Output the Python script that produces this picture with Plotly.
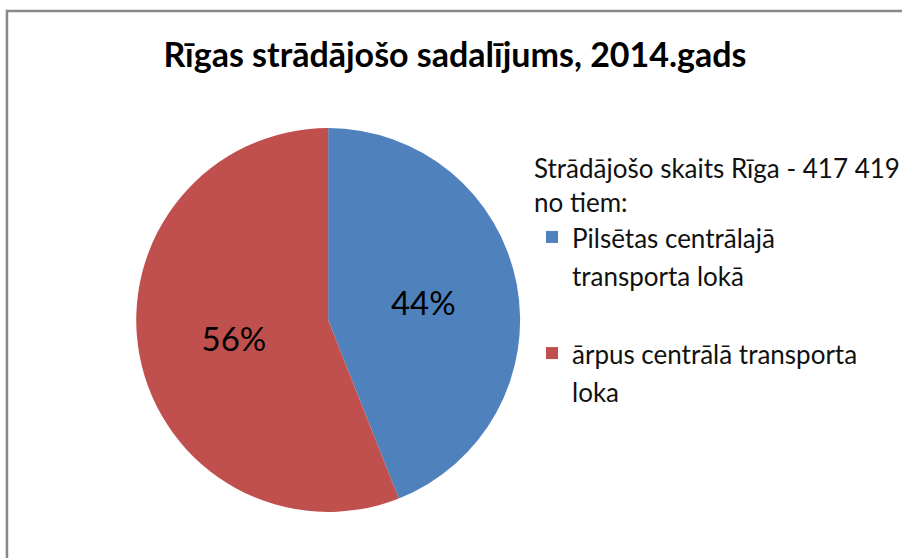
import plotly.graph_objects as go

title_text = "Rīgas strādājošo sadalījums, 2014.gads"
legend_title = "Strādājošo skaits Rīga - 417 419<br>no tiem:"
label_lines = [["Pilsētas centrālajā", "transporta lokā", " "], ["ārpus centrālā transporta", "loka"]]
values = [44, 56]
colors = ["#4F81BD", "#C0504D"]

labels = ["<span style='font-size:26px'>" + "<br>".join(l) + "</span>" for l in label_lines]

W, H = 902, 558
cx, cy, R = 330, 320, 193

fig = go.Figure(go.Pie(
    labels=labels,
    values=values,
    sort=False,
    direction="clockwise",
    rotation=0,
    marker=dict(colors=colors, line=dict(width=0)),
    texttemplate="%{percent:.0%}",
    textposition="inside",
    insidetextorientation="horizontal",
    textfont=dict(family="Lato", size=33, color="black"),
    domain=dict(x=[(cx - R) / W, (cx + R) / W], y=[1 - (cy + R) / H, 1 - (cy - R) / H]),
    hoverinfo="percent",
))

fig.update_layout(
    width=W, height=H,
    margin=dict(l=0, r=0, t=0, b=0),
    paper_bgcolor="white",
    font=dict(family="Lato", color="black"),
    title=dict(text=f"<b>{title_text}</b>", x=455 / W, xanchor="center",
               y=1 - 55 / H, yanchor="middle",
               font=dict(family="Lato", size=34, color="black")),
    showlegend=True,
    legend=dict(
        title=dict(text=legend_title, side="top", font=dict(family="Lato", size=26, color="#111111")),
        x=535 / W, xanchor="left", y=1 - 144 / H, yanchor="top",
        font=dict(family="Lato", size=29, color="#111111"),
        valign="top",
        itemwidth=30,
        bgcolor="rgba(0,0,0,0)",
    ),
    shapes=[dict(type="rect", xref="paper", yref="paper",
                 x0=7 / W, y0=-0.05, x1=1.05, y1=1 - 11 / H,
                 line=dict(color="#888888", width=2.5), fillcolor="rgba(0,0,0,0)")],
)

fig.write_html("out.html", config={"displayModeBar": False},
               post_script="document.body.style.margin='0';document.body.style.overflow='hidden';")
